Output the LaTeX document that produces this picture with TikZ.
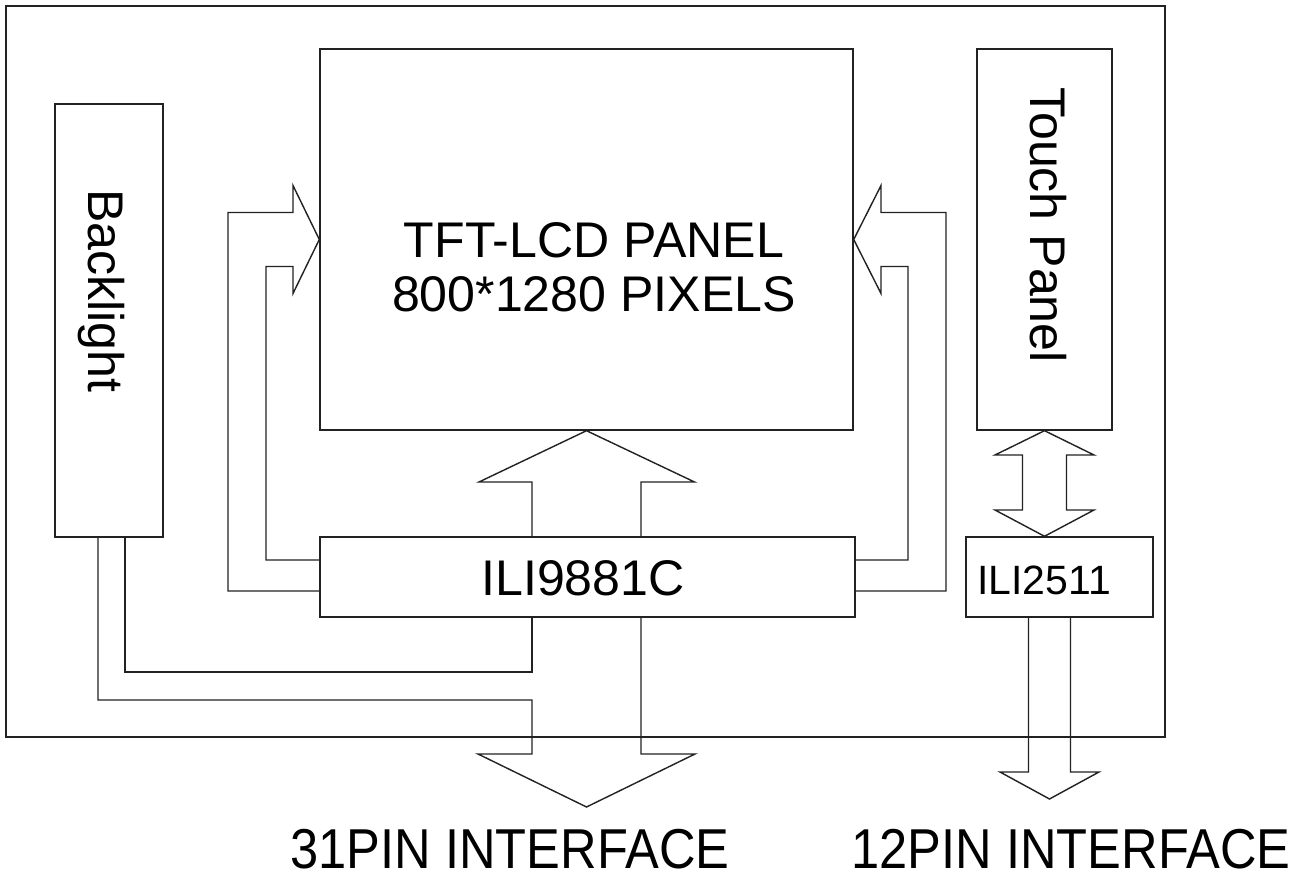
\documentclass[tikz,border=0pt]{standalone}
\usepackage{fontspec}
\setmainfont{Liberation Sans}
\usetikzlibrary{positioning}
\definecolor{lcdline}{HTML}{222222}

\begin{document}
\begin{tikzpicture}[
  block/.style={draw=lcdline, line width=0.8pt, inner sep=0pt},
  wire/.style={draw=lcdline, line width=0.8pt},
  big/.style={font=\fontsize{28.5}{30.7}\selectfont},
  small/.style={font=\fontsize{23.3}{26}\selectfont},
  pin/.style={font=\fontsize{32}{34}\selectfont, xscale=0.9, inner sep=1pt},
]
  \useasboundingbox (0,0) rectangle (26.14,17.6);

  % Module outline and blocks.
  \node[block, minimum width=23.18cm, minimum height=14.62cm] (module) at (11.71,10.17) {};
  \node[block, minimum width=2.16cm, minimum height=8.66cm] (backlight) at (2.18,11.19) {};
  \node[block, minimum width=10.66cm, minimum height=7.62cm] (tft) at (11.73,12.81) {};
  \node[block, minimum width=2.70cm, minimum height=7.62cm] (touch) at (20.89,12.81) {};
  \node[block, minimum width=10.70cm, minimum height=1.60cm] (ili) at (11.75,6.06) {};
  \node[block, minimum width=3.74cm, minimum height=1.60cm] (ili2) at (21.19,6.06) {};

  \node[big, rotate=-90] (backlighttext) at (2.02,11.78) {Backlight};
  \node[big, rotate=-90] (touchtext) at (20.96,13.10) {Touch Panel};
  \node[big, align=center] (tfttext) at (11.88,12.26) {TFT-LCD PANEL\\800*1280 PIXELS};
  \node[big] (ilitext) at (11.66,6.04) {ILI9881C};
  \node[small] (ili2text) at (20.88,6.00) {ILI2511};

  % Driver to panel.
  \draw[wire] (ili.west |- 0,5.78) -| (4.56,13.35) -- (5.86,13.35) -- (5.86,13.89) -- (tft.west)
    -- (5.86,11.73) -- (5.86,12.27) -| (5.32,6.40) -- (ili.west |- 0,6.40);
  \draw[wire] (ili.east |- 0,5.78) -| (18.92,13.35) -- (17.62,13.35) -- (17.62,13.89) -- (tft.east)
    -- (17.62,11.73) -- (17.62,12.27) -| (18.16,6.40) -- (ili.east |- 0,6.40);
  \draw[wire] (10.64,0 |- ili.north) -- (10.64,7.96) -- (9.58,7.96) -- (tft.south)
    -- (13.89,7.96) -- (12.82,7.96) -- (12.82,0 |- ili.north);

  % Touch panel to controller.
  \draw[wire] (touch.south) -- (21.88,8.50) -- (21.33,8.50) -- (21.33,7.40) -- (21.88,7.40)
    -- (touch.south |- ili2.north) -- (19.90,7.40) -- (20.45,7.40) -- (20.45,8.50) -- (19.90,8.50) -- cycle;

  % Backlight and driver to the 31 pin connector.
  \draw[wire] (backlight.south -| 2.50,0) |- (10.64,4.16) -- (10.64,0 |- ili.south);
  \draw[wire] (backlight.south -| 1.96,0) |- (10.64,3.60) -- (10.64,2.52) -- (9.56,2.52) -- (11.73,1.46)
    -- (13.90,2.52) -- (12.82,2.52) -- (12.82,0 |- ili.south);

  % Touch controller to the 12 pin connector.
  \draw[wire] (20.57,0 |- ili2.south) -- (20.57,2.16) -- (20.00,2.16) -- (20.99,1.62)
    -- (21.98,2.16) -- (21.41,2.16) -- (21.41,0 |- ili2.south);

  \node[pin] (pin31) at (10.20,0.62) {31PIN INTERFACE};
  \node[pin] (pin12) at (21.42,0.62) {12PIN INTERFACE};
\end{tikzpicture}
\end{document}
